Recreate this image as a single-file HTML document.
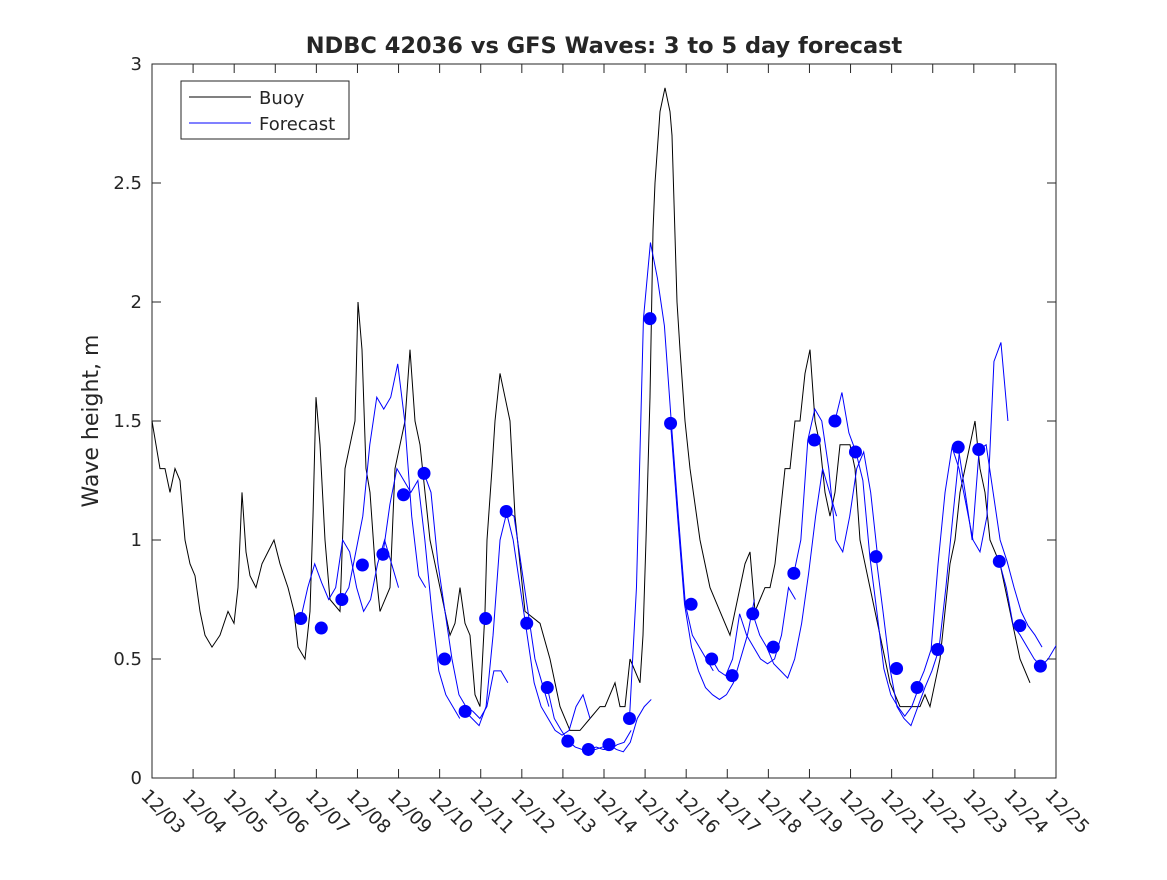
<!DOCTYPE html>
<html><head><meta charset="utf-8"><style>
body{margin:0;background:#fff;}
svg text{font-family:"DejaVu Sans","Liberation Sans",sans-serif;fill:#262626;}
</style></head><body>
<svg id="chart" width="1167" height="875" xmlns="http://www.w3.org/2000/svg">
<defs><clipPath id="pc"><rect x="152" y="64" width="904" height="714"/></clipPath></defs>
<rect width="1167" height="875" fill="#fff"/>
<text x="604" y="53" text-anchor="middle" font-size="22.5" font-weight="bold" fill="#000">NDBC 42036 vs GFS Waves: 3 to 5 day forecast</text>
<text transform="translate(98,421) rotate(-90)" text-anchor="middle" font-size="22">Wave height, m</text>
<g id="plot"></g>
</svg>
<script>
const dayLabels=["12/03","12/04","12/05","12/06","12/07","12/08","12/09","12/10","12/11","12/12","12/13","12/14","12/15","12/16","12/17","12/18","12/19","12/20","12/21","12/22","12/23","12/24","12/25"];
const yTicks=[0,0.5,1,1.5,2,2.5,3];
const buoyX=[152,156,160,165,170,175,180,185,190,195,200,205,212,220,228,234,238,242,246,250,256,262,268,274,280,288,294,298,305,310,313,316,320,325,330,340,345,350,355,358,362,366,370,375,380,390,395,400,405,410,415,420,425,430,435,440,450,455,460,465,470,475,480,485,487,492,495,500,505,510,515,520,525,540,550,560,570,580,590,600,605,610,615,620,625,630,640,643,646,650,653,655,660,665,670,672,677,680,685,690,700,710,720,730,740,745,750,755,760,765,770,775,780,785,790,795,800,805,810,815,820,825,830,835,840,845,850,855,860,865,870,875,880,885,890,900,910,920,925,930,935,940,945,950,955,960,965,970,975,980,985,990,995,1000,1005,1010,1015,1020,1030];
const buoyV=[1.5,1.4,1.3,1.3,1.2,1.3,1.25,1.0,0.9,0.85,0.7,0.6,0.55,0.6,0.7,0.65,0.8,1.2,0.95,0.85,0.8,0.9,0.95,1.0,0.9,0.8,0.7,0.55,0.5,0.7,1.1,1.6,1.4,1.0,0.75,0.7,1.3,1.4,1.5,2.0,1.8,1.3,1.2,0.9,0.7,0.8,1.3,1.4,1.5,1.8,1.5,1.4,1.2,1.0,0.9,0.8,0.6,0.65,0.8,0.65,0.6,0.35,0.3,0.7,1.0,1.3,1.5,1.7,1.6,1.5,1.1,0.9,0.7,0.65,0.5,0.3,0.2,0.2,0.25,0.3,0.3,0.35,0.4,0.3,0.3,0.5,0.4,0.6,1.0,1.6,2.3,2.5,2.8,2.9,2.8,2.7,2.0,1.8,1.5,1.3,1.0,0.8,0.7,0.6,0.8,0.9,0.95,0.7,0.75,0.8,0.8,0.9,1.1,1.3,1.3,1.5,1.5,1.7,1.8,1.5,1.4,1.2,1.1,1.2,1.4,1.4,1.4,1.3,1.0,0.9,0.8,0.7,0.6,0.5,0.4,0.3,0.3,0.3,0.35,0.3,0.4,0.5,0.7,0.9,1.0,1.2,1.3,1.4,1.5,1.3,1.2,1.0,0.95,0.9,0.8,0.7,0.6,0.5,0.4,0.4];
const dotDays=[3.62,4.12,4.62,5.12,5.62,6.12,6.62,7.12,7.62,8.12,8.62,9.12,9.62,10.12,10.62,11.12,11.62,12.12,12.62,13.12,13.62,14.12,14.62,15.12,15.62,16.12,16.62,17.12,17.62,18.12,18.62,19.12,19.62,20.12,20.62,21.12,21.62];
const dotV=[0.67,0.63,0.75,0.895,0.94,1.19,1.28,0.50,0.28,0.67,1.12,0.65,0.38,0.155,0.12,0.14,0.25,1.93,1.49,0.73,0.50,0.43,0.69,0.55,0.86,1.42,1.50,1.37,0.93,0.46,0.38,0.54,1.39,1.38,0.91,0.64,0.47];
const fcStart=[3.62,4.62,5.62,6.62,7.62,8.62,9.62,10.62,11.62,12.62,13.62,14.62,15.62,16.62,17.62,18.62,19.62,20.62];
const fcVals=[
[0.67,0.8,0.9,0.82,0.75,0.8,1.0,0.95,0.8,0.7,0.75,0.9,1.0,0.9,0.8],
[0.75,0.8,0.95,1.1,1.4,1.6,1.55,1.6,1.74,1.5,1.1,0.85,0.8],
[0.94,1.15,1.3,1.25,1.2,1.25,1.0,0.7,0.45,0.35,0.3,0.25],
[1.28,1.2,0.9,0.7,0.5,0.35,0.3,0.28,0.25,0.3,0.45,0.45,0.4],
[0.28,0.25,0.22,0.3,0.6,1.0,1.12,1.1,0.9,0.7,0.5,0.4,0.3],
[1.12,1.0,0.8,0.6,0.4,0.3,0.25,0.2,0.18,0.2,0.3,0.35,0.25],
[0.38,0.25,0.2,0.155,0.13,0.12,0.12,0.13,0.12,0.12,0.14,0.15,0.2],
[0.12,0.12,0.13,0.14,0.12,0.11,0.15,0.25,0.3,0.33],
[0.25,0.8,1.93,2.25,2.1,1.9,1.49,1.1,0.73,0.6,0.55,0.5,0.45],
[1.49,1.1,0.73,0.55,0.45,0.38,0.35,0.33,0.35,0.4,0.5,0.6,0.75],
[0.5,0.45,0.43,0.5,0.69,0.6,0.55,0.5,0.48,0.5,0.6,0.8,0.75],
[0.69,0.6,0.55,0.48,0.45,0.42,0.5,0.65,0.86,1.1,1.3,1.2,1.1],
[0.86,1.0,1.42,1.55,1.5,1.3,1.0,0.95,1.1,1.3,1.37,1.2,0.93],
[1.5,1.62,1.45,1.37,1.25,0.93,0.7,0.46,0.35,0.3,0.26,0.3,0.38],
[0.93,0.7,0.46,0.3,0.25,0.22,0.3,0.38,0.45,0.54,0.8,1.1,1.39],
[0.38,0.45,0.54,0.9,1.2,1.39,1.3,1.15,1.0,0.95,1.1,1.75,1.83,1.5],
[1.39,1.2,1.0,1.38,1.4,1.2,1.0,0.91,0.8,0.7,0.64,0.6,0.55],
[0.91,0.8,0.64,0.6,0.55,0.5,0.47,0.5,0.55,0.6,0.62,0.58]];
const NS="http://www.w3.org/2000/svg";
const L=152,R=1056,T=64,B=778,nDays=22,yMax=3,fcStep=0.17;
const xs=d=>L+(R-L)*d/nDays, ys=v=>B-(B-T)*v/yMax;
const g=document.getElementById('plot');
function mk(t,a){const e=document.createElementNS(NS,t);for(const k in a)e.setAttribute(k,a[k]);g.appendChild(e);return e;}
const frame=mk('rect',{x:L,y:T,width:R-L,height:B-T,fill:'none',stroke:'#262626','stroke-width':1});


yTicks.forEach(v=>{const y=ys(v);
mk('line',{x1:L,x2:L+9,y1:y,y2:y,stroke:'#262626'});mk('line',{x1:R-9,x2:R,y1:y,y2:y,stroke:'#262626'});
const t=mk('text',{x:L-10,y:y+6,'text-anchor':'end','font-size':18});t.textContent=String(v);

});
dayLabels.forEach((lab,i)=>{const x=xs(i);
mk('line',{x1:x,x2:x,y1:B,y2:B-9,stroke:'#262626'});mk('line',{x1:x,x2:x,y1:T,y2:T+9,stroke:'#262626'});
const t=mk('text',{transform:`translate(${x-12},${B+19}) rotate(45)`,'font-size':18.5});t.textContent=lab;

});
const bp=mk('polyline',{points:buoyX.map((px,i)=>`${xs((px-L)/(R-L)*nDays)},${ys(buoyV[i])}`).join(' '),fill:'none',stroke:'#000','stroke-width':1});


fcVals.forEach((vals,k)=>{const p=mk('polyline',{points:vals.map((v,i)=>`${xs(fcStart[k]+i*fcStep)},${ys(v)}`).join(' '),fill:'none',stroke:'#0000ff','stroke-width':1,'clip-path':'url(#pc)'});

});
dotDays.forEach((d,i)=>{const c=mk('circle',{cx:xs(d),cy:ys(dotV[i]),r:6.5,fill:'#0000ff'});

});
const lg=mk('rect',{x:181,y:81,width:168,height:58,fill:'#fff',stroke:'#262626'});


mk('line',{x1:189,x2:251,y1:97,y2:97,stroke:'#000'});
mk('line',{x1:189,x2:251,y1:123,y2:123,stroke:'#0000ff'});
const l1=mk('text',{x:259,y:104,'font-size':18});l1.textContent='Buoy';


const l2=mk('text',{x:259,y:130,'font-size':18});l2.textContent='Forecast';


</script>
</body></html>
